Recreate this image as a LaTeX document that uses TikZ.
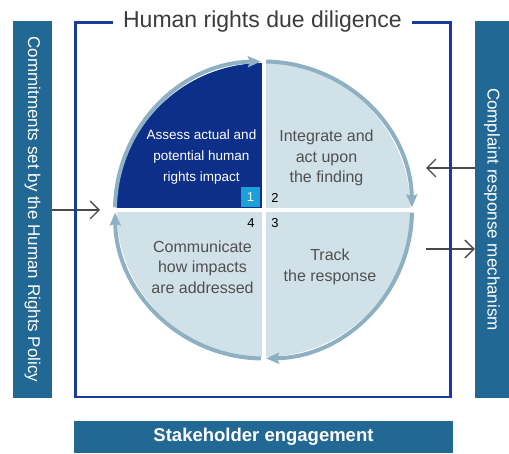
\documentclass[tikz,border=0pt]{standalone}
\usepackage{fontspec}
\setmainfont{Liberation Sans}
\usetikzlibrary{arrows.meta,positioning,calc}
\definecolor{barblue}{HTML}{226895}
\definecolor{frameblue}{HTML}{183C9C}
\definecolor{deepq}{HTML}{0C3089}
\definecolor{paleq}{HTML}{D0E1E8}
\definecolor{ringc}{HTML}{8DB0C3}
\definecolor{tagc}{HTML}{1BA0D8}
\definecolor{txtgray}{HTML}{505050}
\definecolor{titlegray}{HTML}{3C3C3C}
\definecolor{conngray}{HTML}{4A4A4A}
\tikzset{
  sidebar/.style={fill=barblue, text=white, inner sep=0pt, rotate=-90,
    font=\fontsize{17}{20}\selectfont},
  conn/.style={draw=conngray, line width=1.3pt,
    -{Straight Barb[length=9pt,width=18pt,line width=1.3pt]}},
  ring/.style={draw=ringc, line width=4pt,
    -{Stealth[length=13pt,width=11pt,inset=2pt]}},
  deeptext/.style={align=center, text=white, font=\fontsize{13.5}{21}\selectfont},
  paletext/.style={align=center, text=txtgray, font=\fontsize{16}{20.5}\selectfont},
  numlab/.style={text=black, font=\fontsize{13}{15}\selectfont, inner sep=0pt},
  numtag/.style={fill=tagc, text=white, minimum width=19pt, minimum height=20pt,
    inner sep=0pt, font=\fontsize{13}{15}\selectfont}
}
\begin{document}
\begin{tikzpicture}[x=1pt,y=1pt]
\useasboundingbox (0,0) rectangle (509,453);
% side bars and bottom bar
\node[sidebar, minimum width=377pt, minimum height=39pt] (commit) at (32.5,243.5) {Commitments set by the Human Rights Policy};
\node[sidebar, minimum width=377pt, minimum height=34pt] (compl) at (492,243.5) {Complaint response mechanism};
\node[fill=barblue, text=white, minimum width=379pt, minimum height=32pt, inner sep=0pt,
  font=\bfseries\fontsize{18.5}{22}\selectfont] (stake) at (263.5,16) {Stakeholder engagement};
% connectors
\coordinate (inL) at (100,243);
\coordinate (inR) at (426,285);
\coordinate (outR) at (426,204);
\draw[conn] (commit.north |- inL) -- (inL);
\draw[conn] (compl.south |- inR) -- (inR);
\draw[conn] (outR) -- (compl.south |- outR);
% frame with title
\draw[frameblue, line width=2.5pt] (75.5,56) rectangle (450.5,430.5);
\node[fill=white, inner xsep=10pt, inner ysep=2pt, anchor=base, text=titlegray,
  font=\fontsize{23}{27}\selectfont] (title) at (262.5,425.5) {Human rights due diligence};
% cycle of four quadrants
\coordinate (ctr) at (263.5,243);
\begin{scope}[shift={(ctr)}]
  \foreach \a/\c in {90/deepq,0/paleq,-90/paleq,-180/paleq}
    \fill[\c] (0,0) -- (\a+90:147) arc[start angle=\a+90, end angle=\a, radius=147] -- cycle;
  \draw[white, line width=4pt] (-152,0) -- (152,0) (0,-152) -- (0,152);
  \foreach \a in {180,90,0,-90}
    \draw[ring] (\a-1:148.5) arc[start angle=\a-1, end angle=\a-89, radius=148.5];
\end{scope}
% step texts
\node[deeptext] (assess) at (201.5,296) {Assess actual and\\potential human\\rights impact};
\node[paletext] (integ) at (326.5,295) {Integrate and\\act upon\\the finding};
\node[paletext] (track) at (330,186) {Track\\the response};
\node[paletext] (commun) at (202.5,186) {Communicate\\how impacts\\are addressed};
% step numbers
\node[numtag] (n1) at (250.5,256) {1};
\node[numlab] (n2) at (275,255) {2};
\node[numlab] (n3) at (275,230) {3};
\node[numlab] (n4) at (251,230) {4};
\end{tikzpicture}
\end{document}
